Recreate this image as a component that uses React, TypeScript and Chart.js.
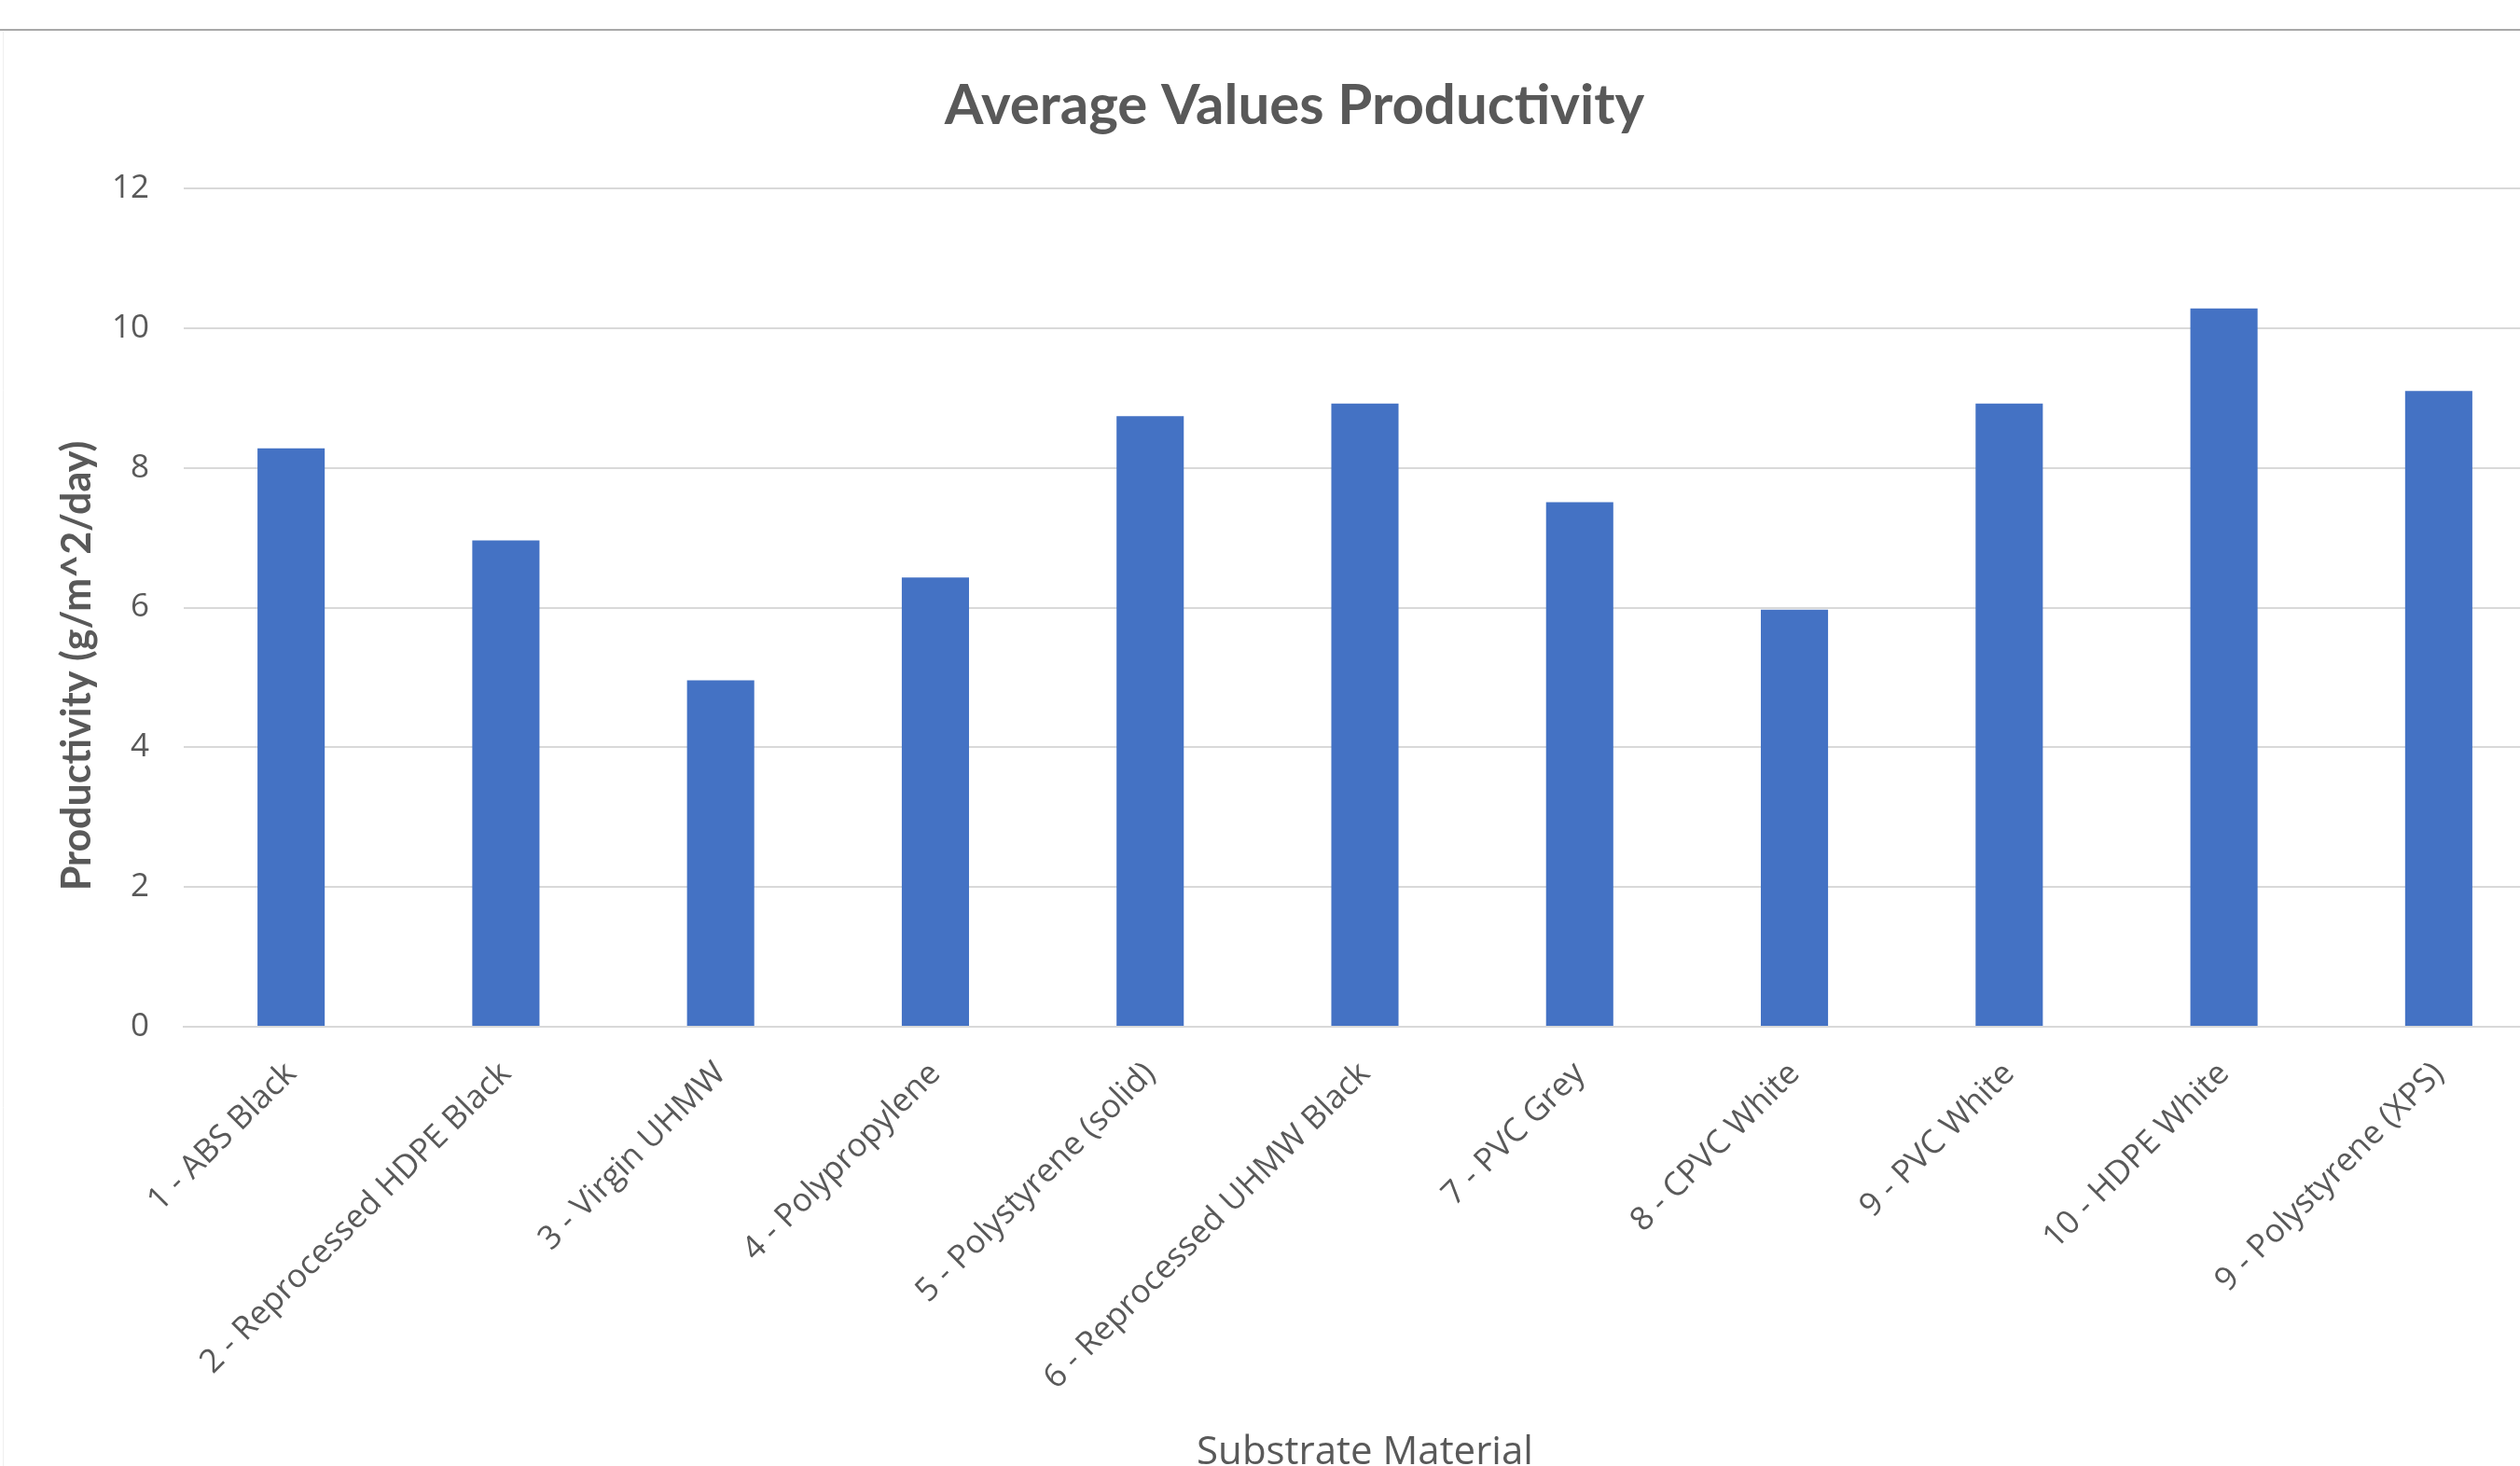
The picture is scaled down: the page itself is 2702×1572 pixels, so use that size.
import React, { useEffect, useRef } from "react";
import { Chart, registerables } from "chart.js";

Chart.register(...registerables);

const categories = [
  "1 - ABS Black",
  "2 - Reprocessed HDPE Black",
  "3 - Virgin UHMW",
  "4 - Polypropylene",
  "5 - Polystyrene (solid)",
  "6 - Reprocessed UHMW Black",
  "7 - PVC Grey",
  "8 - CPVC White",
  "9 - PVC White",
  "10 - HDPE White",
  "9 - Polystyrene (XPS)",
];
const productivity = [8.28, 6.96, 4.96, 6.43, 8.74, 8.92, 7.51, 5.97, 8.92, 10.28, 9.1];
const yMin = 0;
const yMax = 12;
const yStep = 2;
const chartTitle = "Average Values Productivity";
const yTitle = "Productivity (g/m^2/day)";
const xTitle = "Substrate Material";

const W = 2740;
const H = 1572;
const AREA_LEFT = 197;
const AREA_TOP = 202;
const AREA_BOTTOM = 1101;
const AREA_RIGHT = 2730;
const TEXT = "#595959";

const decor = {
  id: "decor",
  beforeDraw(chart: any) {
    const ctx = chart.ctx;
    ctx.save();
    ctx.fillStyle = "#ffffff";
    ctx.fillRect(0, 0, chart.width, chart.height);
    ctx.strokeStyle = "#a8a8a8";
    ctx.lineWidth = 2;
    ctx.beginPath();
    ctx.moveTo(0, 32);
    ctx.lineTo(chart.width, 32);
    ctx.stroke();
    ctx.strokeStyle = "#f0f0f0";
    ctx.lineWidth = 1;
    ctx.beginPath();
    ctx.moveTo(3.5, 34);
    ctx.lineTo(3.5, chart.height);
    ctx.stroke();
    ctx.restore();
  },
  afterDraw(chart: any) {
    const ctx = chart.ctx;
    ctx.save();
    ctx.fillStyle = TEXT;
    ctx.textAlign = "center";
    ctx.textBaseline = "alphabetic";
    ctx.font = "bold 60px Lato";
    ctx.fillText(chartTitle, 1388, 133);
    ctx.font = "42px 'Open Sans'";
    ctx.fillText(xTitle, (chart.chartArea.left + chart.chartArea.right) / 2, 1570);
    ctx.translate(97, 714);
    ctx.rotate(-Math.PI / 2);
    ctx.font = "bold 43px Lato";
    ctx.fillText(yTitle, 0, 0);
    ctx.restore();
  },
};

export default function App() {
  const ref = useRef<HTMLCanvasElement | null>(null);
  useEffect(() => {
    if (!ref.current) return;
    const chart = new Chart(ref.current, {
      type: "bar",
      data: {
        labels: categories,
        datasets: [
          {
            label: "Productivity",
            data: productivity,
            backgroundColor: "#4472C4",
            borderWidth: 0,
            categoryPercentage: 1,
            barPercentage: 0.313,
          },
        ],
      },
      options: {
        animation: false,
        responsive: false,
        devicePixelRatio: 1,
        layout: { padding: { left: 0, top: AREA_TOP, right: W - AREA_RIGHT, bottom: 0 } },
        plugins: {
          legend: { display: false },
          tooltip: { enabled: false },
          title: { display: false },
        },
        scales: {
          x: {
            afterFit: (s: any) => {
              s.height = H - AREA_BOTTOM;
            },
            grid: { display: false, drawTicks: false },
            border: { display: true, color: "#d9d9d9", width: 2 },
            ticks: {
              autoSkip: false,
              minRotation: 45,
              maxRotation: 45,
              padding: 30,
              color: TEXT,
              font: { family: "'Open Sans'", size: 35 },
            },
          },
          y: {
            min: yMin,
            max: yMax,
            afterFit: (s: any) => {
              s.width = AREA_LEFT;
            },
            grid: { color: "#d9d9d9", lineWidth: 2, drawTicks: false },
            border: { display: false },
            ticks: {
              stepSize: yStep,
              padding: 37,
              color: TEXT,
              font: { family: "'Open Sans'", size: 35 },
            },
          },
        },
      },
      plugins: [decor],
    });
    return () => chart.destroy();
  }, []);
  return (
    <div style={{ position: "fixed", left: 0, top: 0, width: "100vw", height: "100vh", overflow: "hidden", background: "#fff" }}>
      <canvas ref={ref} width={W} height={H} style={{ display: "block", width: W, height: H }} />
    </div>
  );
}
